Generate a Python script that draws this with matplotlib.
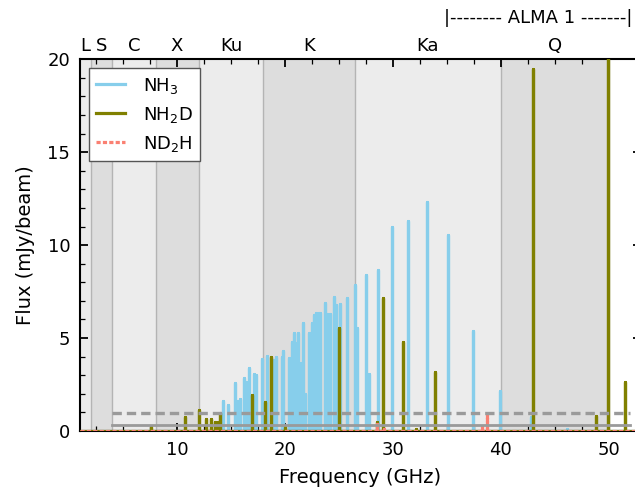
import matplotlib
matplotlib.use("Agg")
import matplotlib.pyplot as plt
import numpy as np

# ---- data ----
band_names = ['L', 'S', 'C', 'X', 'Ku', 'K', 'Ka', 'Q']
band_lo = [1, 2, 4, 8, 12, 18, 26.5, 40]
band_hi = [2, 4, 8, 12, 18, 26.5, 40, 50]

nh3_freq = [14.25, 14.72, 15.37, 15.59, 15.84, 16.18, 16.39, 16.67, 17.17, 17.32,
            17.88, 18.29, 18.85, 19.18, 19.68, 19.80, 20.35, 20.62, 20.82, 21.03,
            21.24, 21.46, 21.68, 21.86, 22.20, 22.51, 22.66, 22.88, 23.12, 23.25,
            23.69, 23.72, 23.87, 24.14, 24.53, 24.75, 25.06, 25.72, 26.52, 26.67,
            27.48, 27.75, 28.60, 29.91, 31.42, 33.16, 35.14, 37.39, 39.90, 42.80, 46.10]
nh3_flux = [1.63, 1.38, 2.56, 1.60, 1.72, 2.83, 2.65, 3.40, 3.06, 3.00,
            3.87, 4.05, 3.80, 3.96, 4.00, 4.30, 3.94, 4.80, 5.25, 4.75,
            5.29, 3.64, 5.79, 1.99, 5.29, 5.82, 6.24, 6.36, 6.33, 6.33,
            6.90, 6.77, 6.29, 6.29, 7.19, 6.77, 6.81, 7.13, 7.87, 5.56,
            8.40, 3.05, 8.64, 10.95, 11.29, 12.33, 10.56, 5.38, 2.13, 0.74, 0.12]

nh2d_freq = [7.60, 10.70, 12.06, 12.68, 13.11, 13.55, 13.76, 14.01, 16.95, 18.13,
             18.69, 20.00, 24.98, 28.52, 29.12, 30.98, 32.10, 33.88, 43.00, 48.80,
             49.96, 51.50]
nh2d_flux = [0.20, 0.77, 1.13, 0.63, 0.63, 0.48, 0.48, 0.99, 1.94, 1.58,
             3.96, 0.20, 5.52, 0.47, 7.17, 4.80, 0.10, 3.19, 19.46, 0.79,
             22.0, 2.62]

nd2h_freq = [28.50, 29.20, 38.25, 38.70, 46.10]
nd2h_flux = [0.35, 0.12, 0.25, 0.84, 0.08]

noise_3sigma = 0.95
noise_1sigma = 0.30
noise_lo, noise_hi = 4, 52

x_min, x_max = 1, 53
y_min, y_max = 0, 20


def spikes(freqs, fluxes, lo, hi):
    order = np.argsort(freqs)
    xs = [lo]
    ys = [0.0]
    for i in order:
        f = freqs[i]
        xs += [f, f, f]
        ys += [0.0, fluxes[i], 0.0]
    xs.append(hi)
    ys.append(0.0)
    return np.array(xs), np.array(ys)


fig = plt.figure(figsize=(6.35, 4.91), dpi=100)
ax = fig.add_axes([80 / 635, 1 - 431 / 491, (641 - 80) / 635, (431 - 59.3) / 491])

# band shading
light, dark = '#ececec', '#dddddd'
for i, (lo, hi) in enumerate(zip(band_lo, band_hi)):
    ax.axvspan(lo, hi, color=light if i % 2 == 0 else dark, lw=0, zorder=0)
    ax.axvline(hi, color='#b4b4b4', lw=1.0, zorder=0.5)
    ax.text((lo + hi) / 2, 1.035, band_names[i], transform=ax.get_xaxis_transform(),
            ha='center', va='center', fontsize=13)

ax.text(43.5, 1.112, '|-------- ALMA 1 -------|', transform=ax.get_xaxis_transform(),
        ha='center', va='center', fontsize=13)

# spectra
x1, y1 = spikes(nh3_freq, nh3_flux, x_min, x_max)
ax.plot(x1, y1, color='#87ceeb', lw=2.3, label='NH$_3$', zorder=2)
x2, y2 = spikes(nh2d_freq, nh2d_flux, x_min, x_max)
ax.plot(x2, y2, color='#808000', lw=2.3, label='NH$_2$D', zorder=3)
x3, y3 = spikes(nd2h_freq, nd2h_flux, x_min, x_max)
l3, = ax.plot(x3, y3, color='#fa8072', lw=2.3, label='ND$_2$H', zorder=4)
l3.set_dashes((1.3, 0.7))

# noise levels
ax.plot([noise_lo, noise_hi], [noise_3sigma, noise_3sigma], color='#9a9a9a', lw=2.4,
        dashes=(2.8, 1.5), zorder=5)
ax.plot([noise_lo, noise_hi], [noise_1sigma, noise_1sigma], color='#9a9a9a', lw=2.0,
        zorder=5)

ax.set_xlim(x_min, x_max)
ax.set_ylim(y_min, y_max)
ax.set_xticks([10, 20, 30, 40, 50])
ax.set_xticks(np.arange(2.5, 53, 2.5), minor=True)
ax.set_yticks([0, 5, 10, 15, 20])
ax.set_yticks(np.arange(0, 21, 1), minor=True)
ax.tick_params(which='both', direction='in', top=True, right=True, labelsize=13)
ax.tick_params(which='major', length=6, width=1.3, pad=7)
ax.tick_params(which='minor', length=3.5, width=0.9)
for s in ax.spines.values():
    s.set_linewidth(1.5)

ax.set_xlabel('Frequency (GHz)', fontsize=14, labelpad=7)
ax.set_ylabel('Flux (mJy/beam)', fontsize=14, labelpad=9)

leg = ax.legend(loc='upper left', bbox_to_anchor=(0.0, 1.0), fontsize=13,
                fancybox=False, edgecolor='#555555', framealpha=1.0,
                handlelength=1.6, handletextpad=1.0, borderaxespad=0.5)
leg.get_frame().set_linewidth(1.0)

fig.savefig('out.png', dpi=100)
